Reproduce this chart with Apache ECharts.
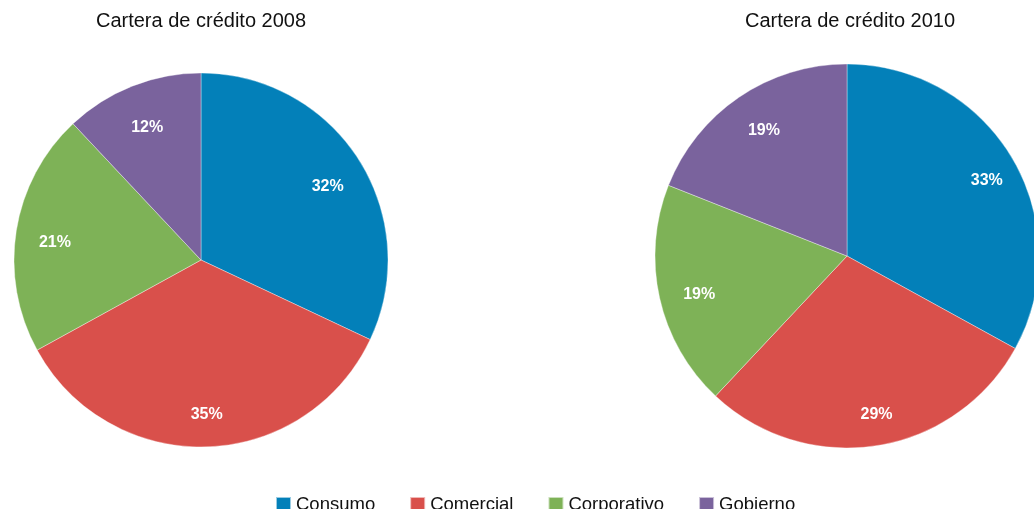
<!DOCTYPE html>
<html>
<head>
<meta charset="utf-8">
<style>
  html, body { margin: 0; padding: 0; background: #fff; }
  #chart { width: 1034px; height: 509px; }
</style>
<script src="https://cdn.jsdelivr.net/npm/echarts@6/dist/echarts.min.js"></script>
</head>
<body>
<div id="chart"></div>
<script>
// Loan portfolio composition by segment, percent of total
const categories = ['Consumo', 'Comercial', 'Corporativo', 'Gobierno'];
const values2008 = [32, 35, 21, 12];
const values2010 = [33, 29, 19, 19];
const titles = ['Cartera de crédito 2008', 'Cartera de crédito 2010'];
const colors = ['#0380B9', '#D9504B', '#7EB257', '#7A639D'];

const FONT = '"Liberation Sans", Arial, sans-serif';

function toData(vals) {
  return categories.map((name, i) => ({ name, value: vals[i] }));
}

// Full pie (no labels) plus a transparent ring carrying the percent labels,
// so the labels sit at roughly 80% of the radius.
function pieSeries(vals, center, r, inner, offset) {
  return [
    {
      type: 'pie',
      center: center,
      radius: [0, r],
      startAngle: 90,
      clockwise: true,
      label: { show: false },
      labelLine: { show: false },
      itemStyle: { borderColor: 'rgba(255,255,255,0.6)', borderWidth: 0.6 },
      emphasis: { disabled: true },
      data: toData(vals)
    },
    {
      type: 'pie',
      center: center,
      radius: [r * inner, r],
      startAngle: 90,
      clockwise: true,
      silent: true,
      legendHoverLink: false,
      itemStyle: { color: 'rgba(0,0,0,0)' },
      label: {
        show: true,
        position: 'inside',
        formatter: '{c}%',
        offset: offset,
        color: '#fff',
        fontFamily: FONT,
        fontWeight: 'bold',
        fontSize: 16
      },
      labelLine: { show: false },
      emphasis: { disabled: true },
      data: toData(vals)
    }
  ];
}

const chart = echarts.init(document.getElementById('chart'), null, { renderer: 'canvas' });

const titleStyle = { fontFamily: FONT, fontSize: 20, fontWeight: 'normal', color: '#111' };

chart.setOption({
  animation: false,
  color: colors,
  title: [
    { text: titles[0], left: 201, top: 11, textAlign: 'center', padding: 0, textStyle: titleStyle },
    { text: titles[1], left: 850, top: 11, textAlign: 'center', padding: 0, textStyle: titleStyle }
  ],
  legend: {
    data: categories,
    top: 495,
    left: 275,
    padding: 0,
    icon: 'rect',
    itemWidth: 15,
    itemHeight: 15,
    itemGap: 34,
    textStyle: { fontFamily: FONT, fontSize: 18.5, color: '#111' }
  },
  series: [
    ...pieSeries(values2008, [201, 260], 187, 0.56, [1, 6]),
    ...pieSeries(values2010, [847, 256], 192, 0.6, [5, 4])
  ]
});
</script>
</body>
</html>
